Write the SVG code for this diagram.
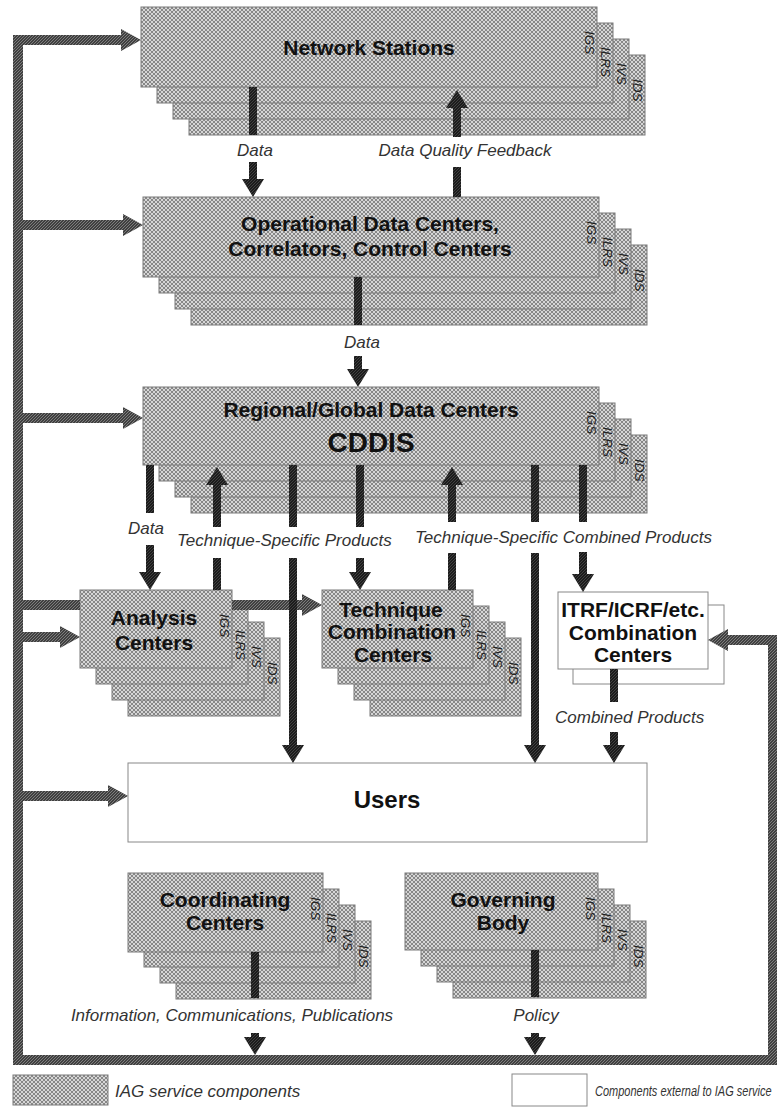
<svg xmlns="http://www.w3.org/2000/svg" width="777" height="1107" viewBox="0 0 777 1107">
<defs>
<pattern id="hatch" width="4" height="4" patternUnits="userSpaceOnUse">
<rect width="4" height="4" fill="#d6d6d6"/>
<path d="M0,0 L4,4 M4,0 L0,4" stroke="#7e7e7e" stroke-width="0.9"/>
</pattern>
<pattern id="bus" width="3" height="3" patternUnits="userSpaceOnUse">
<rect width="3" height="3" fill="#404040"/>
<path d="M0,3 L3,0" stroke="#9a9a9a" stroke-width="0.7"/>
</pattern>
<pattern id="stem" width="3" height="3" patternUnits="userSpaceOnUse">
<rect width="3" height="3" fill="#1c1c1c"/>
<path d="M0,3 L3,0" stroke="#5a5a5a" stroke-width="0.6"/>
</pattern>
</defs>
<style>
.h{fill:url(#hatch);stroke:#7a7a7a;stroke-width:1}
.w{fill:#ffffff;stroke:#888888;stroke-width:1}
.bus{fill:url(#bus)}
.st{fill:url(#stem)}
.t{font-family:"Liberation Sans",Arial,sans-serif;font-weight:bold;font-size:21px;fill:#111;text-anchor:middle}
.big{font-size:28px}
.u{font-size:24px}
.lab{font-family:"Liberation Sans",Arial,sans-serif;font-style:italic;font-size:17px;fill:#333}
.sm{font-size:11px}
.c{text-anchor:middle}
.sv{font-family:"Liberation Sans",Arial,sans-serif;font-style:italic;font-size:13.5px;fill:#222}
</style>
<rect width="777" height="1107" fill="#ffffff"/>

<g id="network-stations">
<rect class="h" x="189" y="55" width="456" height="80"/>
<rect class="h" x="173" y="39" width="456" height="80"/>
<rect class="h" x="157" y="23" width="456" height="80"/>
<rect class="h" x="141" y="7" width="456" height="80"/>
<text class="sv" transform="translate(585,31) rotate(90)">IGS</text>
<text class="sv" transform="translate(601,47) rotate(90)">ILRS</text>
<text class="sv" transform="translate(617,63) rotate(90)">IVS</text>
<text class="sv" transform="translate(633,79) rotate(90)">IDS</text>
<text class="t" x="369" y="55">Network Stations</text>
</g>

<g id="operational-data-centers">
<rect class="h" x="191" y="245" width="456" height="80"/>
<rect class="h" x="175" y="229" width="456" height="80"/>
<rect class="h" x="159" y="213" width="456" height="80"/>
<rect class="h" x="143" y="197" width="456" height="80"/>
<text class="sv" transform="translate(587,221) rotate(90)">IGS</text>
<text class="sv" transform="translate(603,237) rotate(90)">ILRS</text>
<text class="sv" transform="translate(619,253) rotate(90)">IVS</text>
<text class="sv" transform="translate(635,269) rotate(90)">IDS</text>
<text class="t" x="370" y="231">Operational Data Centers,</text>
<text class="t" x="370" y="256">Correlators, Control Centers</text>
</g>

<g id="regional-global-data-centers">
<rect class="h" x="191" y="435" width="456" height="78"/>
<rect class="h" x="175" y="419" width="456" height="78"/>
<rect class="h" x="159" y="403" width="456" height="78"/>
<rect class="h" x="143" y="387" width="456" height="78"/>
<text class="sv" transform="translate(587,411) rotate(90)">IGS</text>
<text class="sv" transform="translate(603,427) rotate(90)">ILRS</text>
<text class="sv" transform="translate(619,443) rotate(90)">IVS</text>
<text class="sv" transform="translate(635,459) rotate(90)">IDS</text>
<text class="t" x="371" y="417">Regional/Global Data Centers</text>
<text class="t big" x="371" y="452">CDDIS</text>
</g>

<g id="analysis-centers">
<rect class="h" x="128" y="638" width="152" height="78"/>
<rect class="h" x="112" y="622" width="152" height="78"/>
<rect class="h" x="96" y="606" width="152" height="78"/>
<rect class="h" x="80" y="590" width="152" height="78"/>
<text class="sv" transform="translate(220,614) rotate(90)">IGS</text>
<text class="sv" transform="translate(236,630) rotate(90)">ILRS</text>
<text class="sv" transform="translate(252,646) rotate(90)">IVS</text>
<text class="sv" transform="translate(268,662) rotate(90)">IDS</text>
<text class="t" x="154" y="625">Analysis</text>
<text class="t" x="154" y="650">Centers</text>
</g>

<g id="technique-combination-centers">
<rect class="h" x="370" y="638" width="151" height="78"/>
<rect class="h" x="354" y="622" width="151" height="78"/>
<rect class="h" x="338" y="606" width="151" height="78"/>
<rect class="h" x="322" y="590" width="151" height="78"/>
<text class="sv" transform="translate(461,614) rotate(90)">IGS</text>
<text class="sv" transform="translate(477,630) rotate(90)">ILRS</text>
<text class="sv" transform="translate(493,646) rotate(90)">IVS</text>
<text class="sv" transform="translate(509,662) rotate(90)">IDS</text>
<text class="t" x="391" y="617">Technique</text>
<text class="t" x="392" y="639">Combination</text>
<text class="t" x="393" y="662">Centers</text>
</g>

<g id="itrf-combination-centers">
<rect class="w" x="573" y="605" width="151" height="79"/>
<rect class="w" x="558" y="592" width="150" height="77"/>
<text class="t" x="633" y="617">ITRF/ICRF/etc.</text>
<text class="t" x="633" y="640">Combination</text>
<text class="t" x="633" y="662">Centers</text>
</g>

<g id="users">
<rect class="w" x="128" y="763" width="519" height="79"/>
<text class="t u" x="387" y="808">Users</text>
</g>

<g id="coordinating-centers">
<rect class="h" x="176" y="921" width="195" height="78"/>
<rect class="h" x="160" y="905" width="195" height="78"/>
<rect class="h" x="144" y="889" width="195" height="78"/>
<rect class="h" x="128" y="873" width="195" height="79"/>
<text class="sv" transform="translate(311,897) rotate(90)">IGS</text>
<text class="sv" transform="translate(327,913) rotate(90)">ILRS</text>
<text class="sv" transform="translate(343,929) rotate(90)">IVS</text>
<text class="sv" transform="translate(359,945) rotate(90)">IDS</text>
<text class="t" x="225" y="907">Coordinating</text>
<text class="t" x="225" y="930">Centers</text>
</g>

<g id="governing-body">
<rect class="h" x="453" y="921" width="193" height="77"/>
<rect class="h" x="437" y="905" width="193" height="77"/>
<rect class="h" x="421" y="889" width="193" height="77"/>
<rect class="h" x="405" y="873" width="193" height="77"/>
<text class="sv" transform="translate(586,897) rotate(90)">IGS</text>
<text class="sv" transform="translate(602,913) rotate(90)">ILRS</text>
<text class="sv" transform="translate(618,929) rotate(90)">IVS</text>
<text class="sv" transform="translate(634,945) rotate(90)">IDS</text>
<text class="t" x="503" y="907">Governing</text>
<text class="t" x="503" y="930">Body</text>
</g>

<g id="connectors">
<!-- feedback bus -->
<rect class="bus" x="13" y="35" width="10" height="1030"/>
<rect class="bus" x="13" y="35" width="110" height="10"/>
<polygon class="bus" points="121,29 121,51 141,40"/>
<rect class="bus" x="23" y="220" width="102" height="10"/>
<polygon class="bus" points="123,214 123,236 143,225"/>
<rect class="bus" x="23" y="413" width="102" height="10"/>
<polygon class="bus" points="123,407 123,429 143,418"/>
<rect class="bus" x="23" y="600" width="57" height="10"/>
<rect class="bus" x="232" y="600" width="72" height="10"/>
<polygon class="bus" points="302,594 302,616 322,605"/>
<rect class="bus" x="23" y="632" width="40" height="10"/>
<polygon class="bus" points="60,626 60,648 80,637"/>
<rect class="bus" x="23" y="791" width="87" height="10"/>
<polygon class="bus" points="108,785 108,807 128,796"/>
<rect class="bus" x="13" y="1055" width="764" height="10"/>
<rect class="bus" x="768" y="635" width="9" height="430"/>
<rect class="bus" x="726" y="635" width="51" height="10"/>
<polygon class="bus" points="728,629 728,651 708,640"/>
<!-- network stations / ODC -->
<rect class="st" x="249" y="87" width="8" height="48"/>
<rect class="st" x="249" y="162" width="8" height="19"/>
<polygon class="st" points="242,179 264,179 253,197"/>
<polygon class="st" points="446,108 468,108 457,90"/>
<rect class="st" x="453" y="106" width="8" height="31"/>
<rect class="st" x="453" y="167" width="8" height="30"/>
<rect class="st" x="354" y="277" width="8" height="48"/>
<rect class="st" x="354" y="356" width="8" height="15"/>
<polygon class="st" points="347,369 369,369 358,387"/>
<!-- RGDC outputs -->
<rect class="st" x="146" y="465" width="8" height="48"/>
<rect class="st" x="146" y="545" width="8" height="29"/>
<polygon class="st" points="139,572 161,572 150,590"/>
<polygon class="st" points="206,485 228,485 217,467"/>
<rect class="st" x="213" y="483" width="8" height="44"/>
<rect class="st" x="213" y="558" width="8" height="32"/>
<rect class="st" x="289" y="465" width="8" height="62"/>
<rect class="st" x="289" y="558" width="8" height="188"/>
<polygon class="st" points="282,745 304,745 293,763"/>
<rect class="st" x="356" y="465" width="8" height="62"/>
<rect class="st" x="356" y="558" width="8" height="16"/>
<polygon class="st" points="349,572 371,572 360,590"/>
<polygon class="st" points="441,485 463,485 452,467"/>
<rect class="st" x="448" y="483" width="8" height="39"/>
<rect class="st" x="448" y="553" width="8" height="37"/>
<rect class="st" x="531" y="465" width="8" height="57"/>
<rect class="st" x="531" y="553" width="8" height="193"/>
<polygon class="st" points="524,745 546,745 535,763"/>
<rect class="st" x="579" y="465" width="8" height="57"/>
<rect class="st" x="579" y="552" width="8" height="23"/>
<polygon class="st" points="572,574 594,574 583,592"/>
<!-- ITRF to users -->
<rect class="st" x="610" y="669" width="8" height="33"/>
<rect class="st" x="610" y="732" width="8" height="14"/>
<polygon class="st" points="603,745 625,745 614,763"/>
<!-- coordinating / governing -->
<rect class="st" x="251" y="952" width="8" height="46"/>
<rect class="st" x="251" y="1033" width="8" height="6"/>
<polygon class="st" points="244,1037 266,1037 255,1055"/>
<rect class="st" x="531" y="950" width="8" height="47"/>
<rect class="st" x="531" y="1033" width="8" height="6"/>
<polygon class="st" points="524,1037 546,1037 535,1055"/>
</g>

<g id="connector-labels">
<text class="lab c" x="255" y="156">Data</text>
<text class="lab c" x="465" y="156">Data Quality Feedback</text>
<text class="lab c" x="362" y="348">Data</text>
<text class="lab c" x="146" y="534">Data</text>
<text class="lab" x="177" y="546">Technique-Specific Products</text>
<text class="lab" x="415" y="543">Technique-Specific Combined Products</text>
<text class="lab" x="555" y="723">Combined Products</text>
<text class="lab c" x="232" y="1021">Information, Communications, Publications</text>
<text class="lab c" x="536" y="1021">Policy</text>
</g>

<g id="legend">
<rect class="h" x="13" y="1075" width="95" height="30"/>
<text class="lab" x="115" y="1097">IAG service components</text>
<rect class="w" x="512" y="1074" width="75" height="32"/>
<text class="lab sm" transform="translate(595,1096) scale(1,1.3)">Components external to IAG service</text>
</g>
</svg>
